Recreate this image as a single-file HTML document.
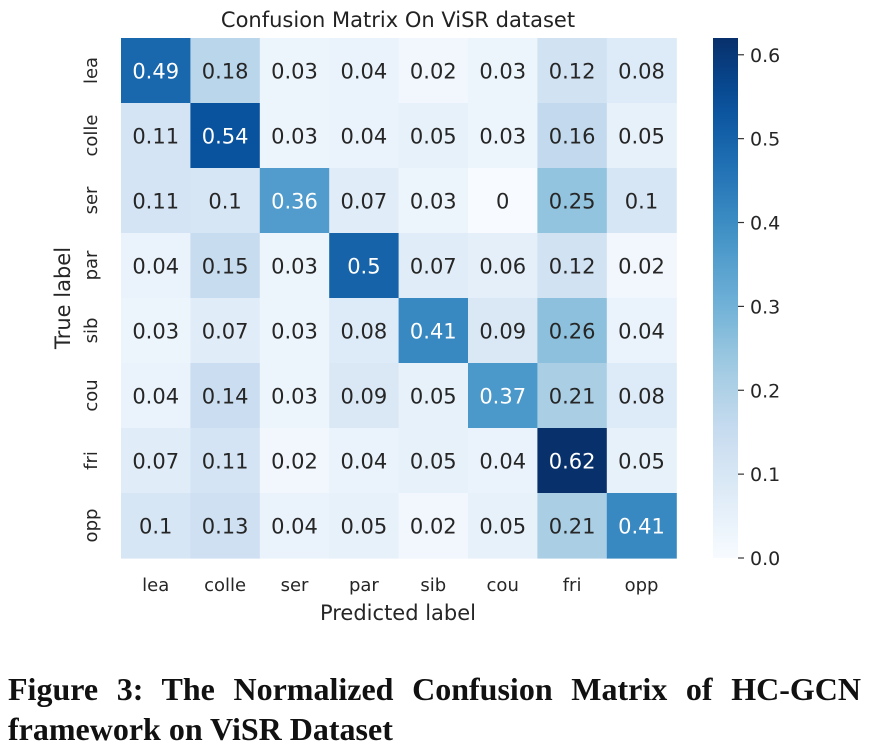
<!DOCTYPE html>
<html><head><meta charset="utf-8"><style>
body{margin:0;background:#fff;width:870px;height:756px;overflow:hidden;font-family:"DejaVu Sans","Liberation Sans",sans-serif;}
#cap{position:absolute;left:8px;top:669px;width:853px;font-family:"Liberation Serif",serif;font-weight:bold;font-size:32px;line-height:40px;color:#111;white-space:nowrap;}
#cap .l1{display:block;text-align:justify;text-align-last:justify;white-space:normal;}
</style></head><body>
<svg id="chart" width="870" height="660" style="position:absolute;left:0;top:0"></svg>
<div id="cap"><span class="l1">Figure 3: The Normalized Confusion Matrix of HC-GCN</span>framework on ViSR Dataset</div>
<script>
const labels=["lea","colle","ser","par","sib","cou","fri","opp"];
const row0=[0.49,0.18,0.03,0.04,0.02,0.03,0.12,0.08];
const row1=[0.11,0.54,0.03,0.04,0.05,0.03,0.16,0.05];
const row2=[0.11,0.1,0.36,0.07,0.03,0,0.25,0.1];
const row3=[0.04,0.15,0.03,0.5,0.07,0.06,0.12,0.02];
const row4=[0.03,0.07,0.03,0.08,0.41,0.09,0.26,0.04];
const row5=[0.04,0.14,0.03,0.09,0.05,0.37,0.21,0.08];
const row6=[0.07,0.11,0.02,0.04,0.05,0.04,0.62,0.05];
const row7=[0.1,0.13,0.04,0.05,0.02,0.05,0.21,0.41];
const matrix=[row0,row1,row2,row3,row4,row5,row6,row7];
const cbTicks=[0,0.1,0.2,0.3,0.4,0.5,0.6];
const NS="http://www.w3.org/2000/svg";
const svg=document.getElementById("chart");
const X0=121,Y0=38,CW=69.4,CH=65,vmax=Math.max(...matrix.flat());
const stops=["#f7fbff","#deebf7","#c6dbef","#9ecae1","#6baed6","#4292c6","#2171b5","#08519c","#08306b"];
function hex(h){return [1,3,5].map(i=>parseInt(h.substr(i,2),16));}
function cmap(v){let t=Math.max(0,Math.min(1,v/vmax))*8;let i=Math.min(7,Math.floor(t));let f=t-i;let a=hex(stops[i]),b=hex(stops[i+1]);return "rgb("+a.map((c,k)=>Math.round(c+(b[k]-c)*f)).join(",")+")";}
function el(tag,attrs,text){const e=document.createElementNS(NS,tag);for(const k in attrs)e.setAttribute(k,attrs[k]);if(text!==undefined)e.textContent=text;svg.appendChild(e);return e;}
const xs=i=>X0+i*CW, ys=j=>Y0+j*CH;
el("text",{x:398,y:27,"text-anchor":"middle","font-size":"21",fill:"#222"},"Confusion Matrix On ViSR dataset");
matrix.forEach((row,j)=>row.forEach((v,i)=>{
 const r=el("rect",{x:xs(i),y:ys(j),width:CW+0.6,height:CH+0.6,fill:cmap(v)});
 
 
 const t=el("text",{x:xs(i)+CW/2,y:ys(j)+CH/2+8,"text-anchor":"middle","font-size":"21",fill:v>0.3?"#fff":"#262626"},String(v));
 
 
}));
labels.forEach((l,i)=>{
 const t=el("text",{x:xs(i)+CW/2,y:591,"text-anchor":"middle","font-size":"18",fill:"#262626"},l);
 
 
 const cy=ys(i)+CH/2;
 const u=el("text",{x:0,y:0,"text-anchor":"middle","font-size":"18",fill:"#262626",transform:"translate(97,"+cy+") rotate(-90)"},l);
 
 
});
el("text",{x:398,y:620,"text-anchor":"middle","font-size":"21",fill:"#262626"},"Predicted label");
el("text",{x:0,y:0,"text-anchor":"middle","font-size":"21",fill:"#262626",transform:"translate(70,298) rotate(-90)"},"True label");
const CBX=713,CBW=25,CBT=Y0,CBB=Y0+8*CH;
const cy=v=>CBB-(v/vmax)*(CBB-CBT);
const defs=el("defs",{});
const g=document.createElementNS(NS,"linearGradient");g.setAttribute("id","cbg");g.setAttribute("x1","0");g.setAttribute("y1","1");g.setAttribute("x2","0");g.setAttribute("y2","0");
for(let k=0;k<=20;k++){const s=document.createElementNS(NS,"stop");s.setAttribute("offset",k/20);s.setAttribute("stop-color",cmap(vmax*k/20));g.appendChild(s);}
defs.appendChild(g);
el("rect",{x:CBX,y:CBT,width:CBW,height:CBB-CBT,fill:"url(#cbg)"});
cbTicks.forEach(v=>{
 const l=el("line",{x1:CBX+CBW,x2:CBX+CBW+6,y1:cy(v),y2:cy(v),stroke:"#333","stroke-width":1.2});
 
 const t=el("text",{x:CBX+CBW+12,y:cy(v)+7,"font-size":"19",fill:"#262626"},v.toFixed(1));
 
 
});
</script>
</body></html>
